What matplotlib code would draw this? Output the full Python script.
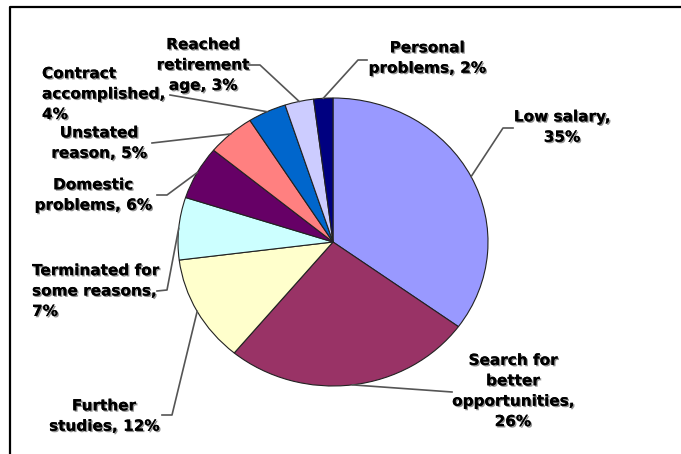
import numpy as np
import matplotlib
matplotlib.use("Agg")
import matplotlib.pyplot as plt
import matplotlib.patheffects as pe

# données du camembert (sens horaire depuis le haut)
raisons = ["Low salary", "Search for better opportunities", "Further studies",
           "Terminated for some reasons", "Domestic problems", "Unstated reason",
           "Contract accomplished", "Reached retirement age", "Personal problems"]
pourcentages = [35, 26, 12, 7, 6, 5, 4, 3, 2]
etiquettes = ["Low salary,\n35%", "Search for\nbetter\nopportunities,\n26%",
              "Further\nstudies, 12%", "Terminated for\nsome reasons,\n7%",
              "Domestic\nproblems, 6%", "Unstated\nreason, 5%",
              "Contract\naccomplished,\n4%", "Reached\nretirement\nage, 3%",
              "Personal\nproblems, 2%"]
couleurs = ["#9999FF", "#993366", "#FFFFCC", "#CCFFFF", "#660066",
            "#FF8080", "#0066CC", "#CCCCFF", "#000080"]

W, H = 681, 454
# boite du camembert en pixels (gauche, haut, droite, bas)
px0, py0, px1, py1 = 178, 98, 488, 386
cx, cy = (px0 + px1) / 2, (py0 + py1) / 2
rx, ry = (px1 - px0) / 2, (py1 - py0) / 2

# position des textes (pixels, y vers le bas) et coudes des traits de rappel
pos_texte = [(562, 127, "center"), (513, 391, "center"), (104, 416, "center"),
             (32, 291, "left"), (93, 195, "center"), (99, 143, "center"),
             (42, 94, "left"), (203, 65, "center"), (427, 58, "center")]
coudes = [[(503, 128), (513, 128)], [(452, 392)], [(172, 415), (162, 415)],
          [(167, 290), (157, 291)], [(167, 195), (157, 195)], [(152, 143)],
          [(170, 95)], [(260, 65), (249, 65)], [(358, 60), (367, 60)]]

fig = plt.figure(figsize=(W / 100, H / 100), dpi=100)

# camembert (ellipse légère -> aspect auto)
ax = fig.add_axes([px0 / W, 1 - py1 / H, (px1 - px0) / W, (py1 - py0) / H])
wedges, _ = ax.pie(pourcentages, colors=couleurs, startangle=90, counterclock=False,
                   wedgeprops=dict(edgecolor="#222222", linewidth=0.8))
ax.set_aspect("auto")
ax.set_xlim(-1, 1)
ax.set_ylim(-1, 1)
ax.axis("off")

# calque en pixels pour textes, traits et cadre
ov = fig.add_axes([0, 0, 1, 1], zorder=3)
ov.set_xlim(0, W)
ov.set_ylim(H, 0)
ov.axis("off")
ov.patch.set_alpha(0)

ombre = [pe.withSimplePatchShadow(offset=(1, -1), shadow_rgbFace="#777777", alpha=0.8),
         pe.Normal()]

for w, lab, (tx, ty, ha), pts in zip(wedges, etiquettes, pos_texte, coudes):
    theta = np.deg2rad((w.theta1 + w.theta2) / 2)
    ex, ey = cx + rx * np.cos(theta), cy - ry * np.sin(theta)
    xs = [ex] + [p[0] for p in pts]
    ys = [ey] + [p[1] for p in pts]
    ov.plot(xs, ys, color="#555555", linewidth=1.2)
    ov.text(tx, ty, lab, ha=ha, va="center", multialignment=ha,
            fontsize=11, fontweight="bold", family="DejaVu Sans",
            linespacing=1.45, color="black", path_effects=ombre)

# cadre
ov.plot([10, 10, W], [H, 7, 7], color="black", linewidth=1.6, clip_on=False)

fig.savefig("out.png", dpi=100)
